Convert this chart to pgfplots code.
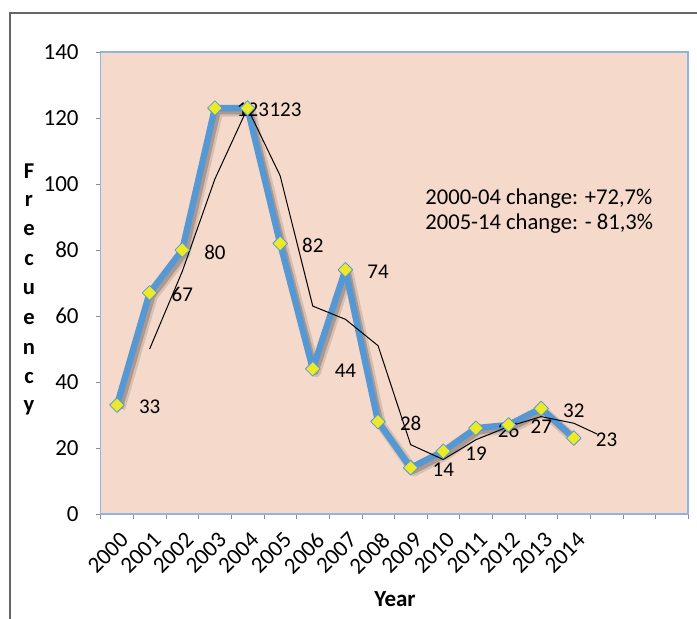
\documentclass[border=0pt]{standalone}
\usepackage{fontspec}
\setmainfont{Carlito}
\usepackage{pgfplots}
\pgfplotsset{compat=1.18}
\definecolor{peach}{RGB}{245,218,203}
\definecolor{bl}{RGB}{86,152,212}
\definecolor{yel}{RGB}{236,234,40}
\definecolor{axbl}{RGB}{142,180,227}
\newcommand{\f}{\fontsize{10.5}{12.5}\selectfont}
\newcommand{\ft}{\fontsize{11.5}{13.5}\selectfont}
\newcommand{\fa}{\fontsize{11.3}{13.5}\selectfont}
\begin{document}
\begin{tikzpicture}
\useasboundingbox (0,0) rectangle (348.5pt,309.5pt);
\fill[white] (0,0) rectangle (348.5pt,309.5pt);
\draw[black!60, line width=0.9pt] (5pt,0) -- (5pt,303pt) -- (348.5pt,303pt);
\begin{axis}[
  at={(50.35pt,52.5pt)}, anchor=south west,
  scale only axis, width=293.65pt, height=231pt,
  xmin=-0.5, xmax=17.5, ymin=0, ymax=140,
  xtick={0,...,14},
  xticklabels={2000,2001,2002,2003,2004,2005,2006,2007,2008,2009,2010,2011,2012,2013,2014},
  minor xtick={-0.5,0.5,...,17.5},
  ytick={0,20,...,140},
  xtick pos=bottom, ytick pos=left,
  tick align=outside,
  major tick length=2.5pt, minor tick length=2.5pt,
  major x tick style={draw=none},
  tick style={black!45},
  axis line style={draw=axbl, line width=0.6pt},
  axis background/.style={fill=peach},
  tick label style={font=\ft},
  y tick label style={xshift=-5pt},
  x tick label style={rotate=45, anchor=north east, xshift=0pt, yshift=-1.5pt},
  /pgf/number format/assume math mode=true,
  clip=false,
]
\addplot[black, opacity=0.12, line width=5pt, line join=round,
  transform canvas={xshift=1.6pt,yshift=-1.8pt}] table {
x y
0 33
1 67
2 80
3 123
4 123
5 82
6 44
7 74
8 28
9 14
10 19
11 26
12 27
13 32
14 23
};
\addplot[black, opacity=0.2, line width=3pt, line join=round,
  transform canvas={xshift=1.4pt,yshift=-1.6pt}] table {
x y
0 33
1 67
2 80
3 123
4 123
5 82
6 44
7 74
8 28
9 14
10 19
11 26
12 27
13 32
14 23
};
\addplot[bl, line width=3.2pt, line join=round,
  mark=square*, mark size=2.6pt,
  mark options={rotate=45, fill=yel, draw=bl, line width=0.4pt},
  nodes near coords, nodes near coords align={anchor=west},
  every node near coord/.append style={xshift=7.5pt, yshift=-1pt, font=\f, black}] table {
x y
0 33
1 67
2 80
3 123
4 123
5 82
6 44
7 74
8 28
9 14
10 19
11 26
12 27
13 32
14 23
};
\addplot[black, line width=0.5pt, mark=none] table {
x y
1 50
2 73.5
3 101.5
4 123
5 102.5
6 63
7 59
8 51
9 21
10 16.5
11 22.5
12 26.5
13 29.5
14 27.5
14.72 24.2
};
\end{axis}
\node[font=\ft\bfseries] at (197.5pt,10pt) {Year};
\foreach \l [count=\i from 0] in {F,r,e,c,u,e,n,c,y}
  \node[font=\fa\bfseries] at (14.5pt,224pt-14.8pt*\i) {\l};
\node[font=\fa, align=left, anchor=west, inner sep=0pt] at (212.5pt,203.75pt)
  {2000-04 change: +72,7\%\\[-1pt]2005-14 change: - 81,3\%};
\end{tikzpicture}
\end{document}
